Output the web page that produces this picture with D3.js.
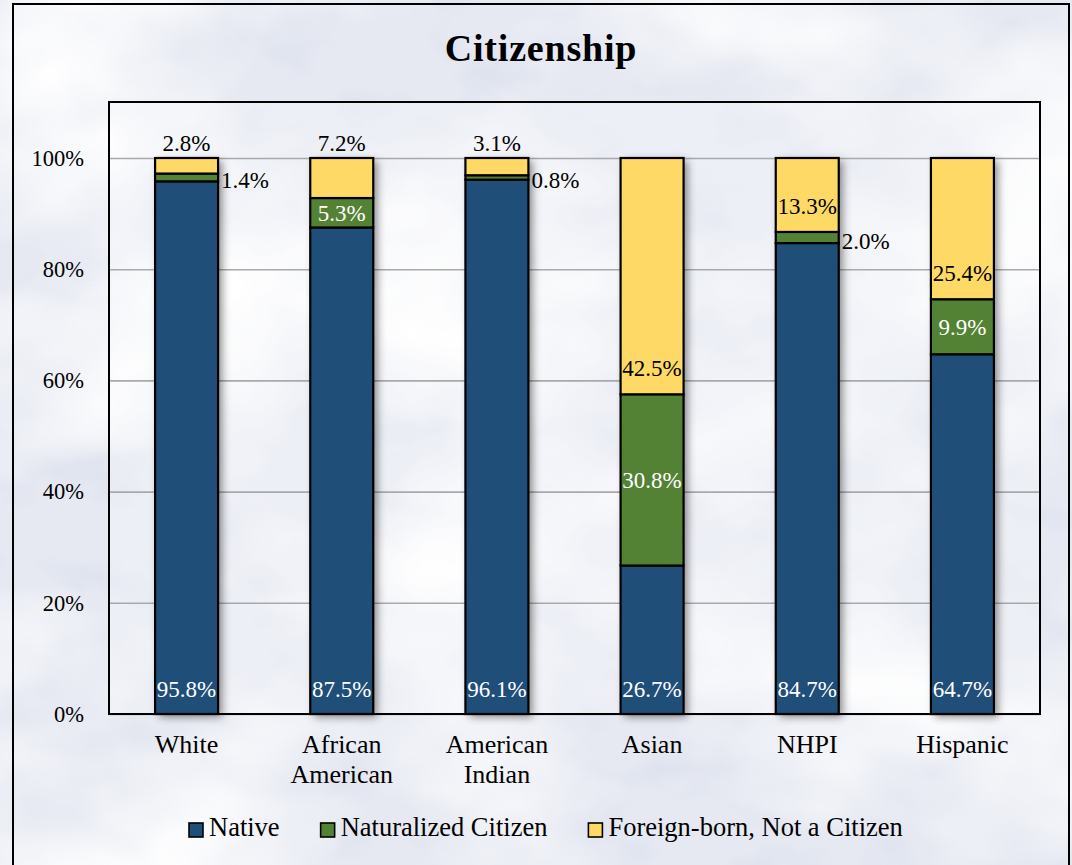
<!DOCTYPE html>
<html>
<head>
<meta charset="utf-8">
<script src="https://cdn.jsdelivr.net/npm/d3@7"></script>
<style>
  html, body { margin: 0; padding: 0; background: #e6e9f2; }
  svg { display: block; }
  text { font-family: "Liberation Serif", "DejaVu Serif", serif; }
</style>
</head>
<body>
<svg id="chart" width="1072" height="865"></svg>
<script>
// Share of each population group by citizenship status (percent)
const categories = ["White", "African American", "American Indian", "Asian", "NHPI", "Hispanic"];
const native = [95.8, 87.5, 96.1, 26.7, 84.7, 64.7];
const naturalized = [1.4, 5.3, 0.8, 30.8, 2.0, 9.9];
const foreignBorn = [2.8, 7.2, 3.1, 42.5, 13.3, 25.4];
const seriesNames = ["Native", "Naturalized Citizen", "Foreign-born, Not a Citizen"];
const seriesColors = ["#1f4e79", "#548235", "#ffd966"];
const yTicks = [0, 20, 40, 60, 80, 100];
const titleText = "Citizenship";

const W = 1072, H = 865;
const plot = { left: 109, top: 102, right: 1040, bottom: 714 };
const keys = ["native", "naturalized", "foreignBorn"];
const rows = categories.map((c, i) => ({
  category: c, native: native[i], naturalized: naturalized[i], foreignBorn: foreignBorn[i]
}));

const svg = d3.select("#chart");
const defs = svg.append("defs");

// Crumpled-paper background texture
const paper = defs.append("filter").attr("id", "paper")
  .attr("filterUnits", "userSpaceOnUse").attr("x", 0).attr("y", 0).attr("width", W).attr("height", H);
paper.append("feTurbulence").attr("type", "fractalNoise")
  .attr("baseFrequency", "0.0035 0.005").attr("numOctaves", 4).attr("seed", 11).attr("result", "noise");
paper.append("feColorMatrix").attr("in", "noise").attr("type", "matrix")
  .attr("values", "0 0 0 0 1  0 0 0 0 1  0 0 0 0 1  2.4 0 0 0 -0.95").attr("result", "light");
paper.append("feTurbulence").attr("type", "fractalNoise")
  .attr("baseFrequency", "0.012 0.02").attr("numOctaves", 3).attr("seed", 4).attr("result", "noise2");
paper.append("feColorMatrix").attr("in", "noise2").attr("type", "matrix")
  .attr("values", "0 0 0 0 0.62  0 0 0 0 0.67  0 0 0 0 0.78  0 -1.0 0 0 0.5").attr("result", "dark");
paper.append("feMerge").selectAll("feMergeNode").data(["dark", "light"]).join("feMergeNode").attr("in", d => d);

// Soft shadow behind each bar
const shadow = defs.append("filter").attr("id", "barShadow")
  .attr("x", "-30%").attr("y", "-10%").attr("width", "160%").attr("height", "120%");
shadow.append("feDropShadow").attr("dx", 4).attr("dy", 3).attr("stdDeviation", 4)
  .attr("flood-color", "#000").attr("flood-opacity", 0.45);

svg.append("rect").attr("width", W).attr("height", H).attr("fill", "#e6e9f2");
svg.append("rect").attr("width", W).attr("height", H).attr("fill", "#fff").attr("filter", "url(#paper)");

// Outer frame
svg.append("rect").attr("x", 13).attr("y", 4).attr("width", 1056).attr("height", 900)
  .attr("fill", "none").attr("stroke", "#000").attr("stroke-width", 2);

// Title
svg.append("text").attr("x", 541).attr("y", 61).attr("text-anchor", "middle")
  .attr("font-size", 38).attr("font-weight", "bold").attr("letter-spacing", 0.8)
  .attr("fill", "#000").text(titleText);

const x = d3.scaleBand().domain(categories).range([plot.left, plot.right])
  .paddingInner(0.594).paddingOuter(0.297);
const y = d3.scaleLinear().domain([0, 100]).range([plot.bottom, plot.top + 56]);

// Plot area
svg.append("rect").attr("x", plot.left).attr("y", plot.top)
  .attr("width", plot.right - plot.left).attr("height", plot.bottom - plot.top)
  .attr("fill", "#fff").attr("fill-opacity", 0.3);

// Gridlines and percentage axis
const yAxis = d3.axisLeft(y).tickValues(yTicks).tickSize(-(plot.right - plot.left))
  .tickFormat(d => d + "%").tickPadding(25);
const gy = svg.append("g").attr("transform", `translate(${plot.left},0)`).call(yAxis);
gy.select(".domain").remove();
gy.selectAll(".tick line").attr("stroke", "#a9a9ab").attr("stroke-width", 1.6);
gy.selectAll(".tick text").attr("font-size", 22.5).attr("fill", "#000").attr("dy", "0.32em");

const stack = d3.stack().keys(keys);
const series = stack(rows);

// Bar shadows (one per full stacked bar)
svg.append("g").selectAll("rect").data(rows).join("rect")
  .attr("x", d => x(d.category)).attr("width", x.bandwidth())
  .attr("y", d => y(d.native + d.naturalized + d.foreignBorn))
  .attr("height", d => y(0) - y(d.native + d.naturalized + d.foreignBorn))
  .attr("fill", "#000").attr("filter", "url(#barShadow)");

// Stacked segments
svg.append("g").selectAll("g").data(series).join("g")
  .attr("fill", (s, i) => seriesColors[i])
  .selectAll("rect").data(s => s).join("rect")
  .attr("x", d => x(d.data.category)).attr("width", x.bandwidth())
  .attr("y", d => y(d[1])).attr("height", d => y(d[0]) - y(d[1]))
  .attr("stroke", "#000").attr("stroke-width", 2.2);

// Plot border
svg.append("rect").attr("x", plot.left).attr("y", plot.top)
  .attr("width", plot.right - plot.left).attr("height", plot.bottom - plot.top)
  .attr("fill", "none").attr("stroke", "#000").attr("stroke-width", 2);

// Value labels
const fmt = d => d3.format(".1f")(d) + "%";
const labels = svg.append("g").attr("font-size", 23);
series.forEach((s, si) => {
  s.forEach(d => {
    const v = d[1] - d[0];
    const cx = x(d.data.category) + x.bandwidth() / 2;
    let lx = cx, ly, anchor = "middle", color = "#000";
    if (si === 0) {            // native: inside base
      ly = y(d[0]) - 17; color = "#fff";
    } else if (si === 1) {     // naturalized: centred, or beside thin segments
      if (v >= 5) { ly = (y(d[0]) + y(d[1])) / 2 + 8; color = "#fff"; }
      else { lx = x(d.data.category) + x.bandwidth() + 3; anchor = "start"; ly = (y(d[0]) + y(d[1])) / 2 + 11; }
    } else {                   // foreign-born: above short bars, near base of tall segments
      if (v < 10) ly = y(d[1]) - 7;
      else ly = y(d[0]) - 18;
    }
    labels.append("text").attr("x", lx).attr("y", ly).attr("text-anchor", anchor)
      .attr("fill", color).text(fmt(v));
  });
});

// Category labels, wrapped on spaces
const xl = svg.append("g").attr("font-size", 26).attr("text-anchor", "middle");
categories.forEach(c => {
  const cx = x(c) + x.bandwidth() / 2;
  const t = xl.append("text").attr("x", cx).attr("y", 753);
  c.split(" ").forEach((w, i) => {
    t.append("tspan").attr("x", cx).attr("dy", i === 0 ? 0 : 30).text(w);
  });
});

// Legend
const lg = svg.append("g").attr("font-size", 26.5);
let lx = 189;
seriesNames.forEach((name, i) => {
  lg.append("rect").attr("x", lx).attr("y", 823).attr("width", 14).attr("height", 14)
    .attr("fill", seriesColors[i]).attr("stroke", "#000").attr("stroke-width", 1.6);
  const t = lg.append("text").attr("x", lx + 20).attr("y", 836).text(name);
  lx += 20 + t.node().getComputedTextLength() + 41;
});
</script>
</body>
</html>
